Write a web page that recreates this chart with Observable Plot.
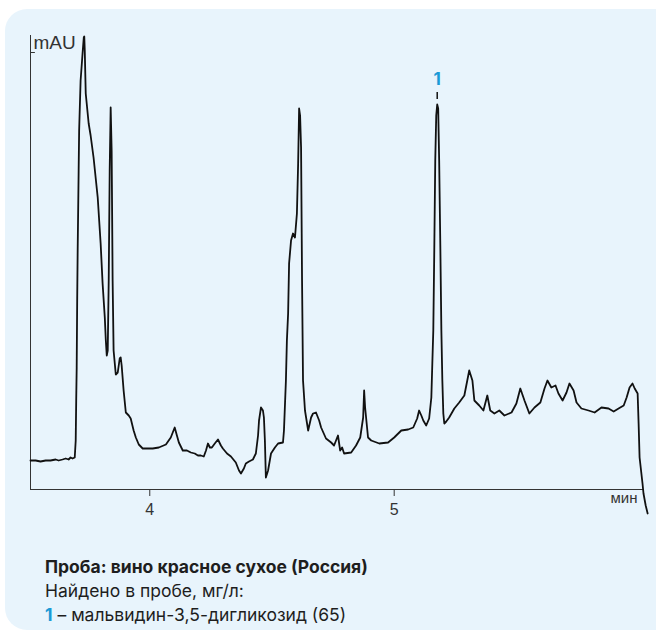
<!DOCTYPE html>
<html><head><meta charset="utf-8">
<script src="https://cdn.jsdelivr.net/npm/d3@7"></script>
<script src="https://cdn.jsdelivr.net/npm/@observablehq/plot@0.6"></script>
<style>
html,body{margin:0;padding:0;width:656px;height:632px;overflow:hidden;background:#fff;}
#card{position:absolute;left:5px;top:9px;width:700px;height:621px;border-radius:22px;background:#e8f4fc;}
#chart{position:absolute;left:0;top:0;}
#caption{position:absolute;left:45px;top:555px;font-family:Inter,Roboto,"Noto Sans",sans-serif;font-size:17.5px;line-height:24px;color:#1e1e1e;}
</style></head><body>
<div id="card"></div><div id="chart"></div>
<div id="caption"><b>Проба: вино красное сухое (Россия)</b><br>Найдено в пробе, мг/л:<br><span style="color:#1b9ad6;font-weight:700">1</span> – мальвидин-3,5-дигликозид (65)</div>
<script>
const time = [3.512,3.533,3.553,3.574,3.594,3.615,3.627,3.643,3.656,3.668,3.676,3.684,3.693,
3.697,3.699,3.701,3.703,3.705,3.709,3.711,3.717,3.725,3.730,3.732,
3.734,3.738,3.750,3.758,3.770,3.787,3.799,3.807,3.816,3.820,3.824,3.828,3.832,3.836,3.840,3.844,3.848,3.852,3.861,3.869,3.877,3.881,3.885,3.893,3.902,3.914,3.922,3.934,3.943,3.955,3.971,3.996,4.012,4.037,4.066,4.086,4.094,4.102,4.111,4.119,4.135,4.152,4.168,4.184,4.197,4.209,4.221,4.230,4.238,4.246,4.254,4.266,4.279,4.291,4.299,4.316,4.332,4.352,4.365,4.373,4.385,4.393,4.406,4.422,4.434,4.443,4.447,4.455,4.463,4.467,4.471,4.475,4.484,4.496,4.512,4.525,4.545,4.549,4.557,4.561,4.566,4.570,4.578,4.586,4.594,4.602,4.607,4.611,4.615,4.619,4.623,4.627,4.635,4.648,4.660,4.668,4.680,4.693,4.701,4.721,4.742,4.754,4.762,4.770,4.779,4.787,4.795,4.824,4.844,4.861,4.873,4.877,4.881,4.893,4.906,4.939,4.975,5.000,5.029,5.057,5.078,5.094,5.102,5.111,5.119,5.131,5.143,5.152,5.156,5.160,5.164,5.168,5.172,5.176,5.180,5.184,5.189,5.193,5.197,5.201,5.205,5.213,5.225,5.246,5.266,5.287,5.299,5.307,5.320,5.328,5.348,5.365,5.381,5.393,5.410,5.430,5.451,5.480,5.500,5.516,5.533,5.553,5.574,5.598,5.615,5.627,5.643,5.660,5.672,5.689,5.705,5.717,5.734,5.746,5.766,5.795,5.820,5.848,5.877,5.898,5.918,5.939,5.951,5.963,5.975,5.984,5.996,6.000,6.004,6.016,6.020,6.029,6.037];
const signal = [29,29,28,29,29,30,29,30,31,30,32,31,32,
49,89,122,189,239,319,359,409,436,452,453,
439,396,366,354,332,292,246,206,172,150,134,139,209,319,382,339,209,139,115,117,131,132,124,99,77,74,71,59,52,45,41,41,41,42,45,52,57,62,54,47,39,39,37,36,34,34,33,39,46,42,42,46,50,44,41,36,33,27,19,16,21,26,28,30,36,54,69,82,79,72,49,12,19,36,42,46,47,59,109,149,176,226,249,256,252,276,326,381,374,342,209,109,79,59,72,76,77,69,62,51,47,44,49,54,39,42,36,37,44,52,72,99,82,52,49,46,47,52,59,60,62,71,79,74,69,64,71,92,126,159,239,329,374,385,381,329,239,159,109,76,66,68,72,81,87,94,109,119,109,89,84,79,94,79,76,79,74,77,86,101,89,76,82,87,101,109,102,104,96,89,97,106,99,87,81,79,77,82,81,78,81,84,92,102,106,101,96,66,32,6,-4,-16,-24];
const xTicks = [4, 5];
const xDomain = [3.512, 6.020];
const yDomain = [0, 454];
const yTopTick = 437;
const peaks = [{t: 5.176, v: 385, label: "1"}];
const yLabel = "mAU";
const xLabel = "мин";
const blue = "#1b9ad6";

const data = time.map((t, i) => ({t, v: signal[i]}));

const chart = Plot.plot({
  width: 656, height: 530,
  marginLeft: 30, marginRight: 13, marginTop: 35, marginBottom: 41,
  style: {background: "transparent", fontFamily: "'Liberation Sans', Arial, sans-serif", color: "#333", overflow: "visible"},
  x: {domain: xDomain, axis: null},
  y: {domain: yDomain, axis: null},
  marks: [
    Plot.ruleY([0], {stroke: "#333", strokeWidth: 1}),
    Plot.ruleX([xDomain[0]], {stroke: "#333", strokeWidth: 1}),
    Plot.ruleY([yTopTick], {x1: xDomain[0], x2: xDomain[0] + 0.02, stroke: "#333"}),
    Plot.axisX({ticks: xTicks, tickFormat: d => String(d), tickSize: 7, tickPadding: 7, fontSize: 16, label: null, stroke: "#333", fill: "#333"}),
    Plot.text([yLabel], {frameAnchor: "top-left", dx: 3, dy: 0, lineAnchor: "top", textAnchor: "start", fontSize: 19, fill: "#333"}),
    Plot.text([xLabel], {frameAnchor: "bottom-right", dx: -6, dy: 3, lineAnchor: "top", textAnchor: "end", fontSize: 15, fill: "#333"}),
    Plot.line(data, {x: "t", y: "v", stroke: "#111", strokeWidth: 1.8, strokeLinejoin: "round"}),
    Plot.ruleX(peaks, {x: "t", y1: d => d.v + 5, y2: d => d.v + 12, stroke: "#111", strokeWidth: 1.5}),
    Plot.text(peaks, {x: "t", y: "v", text: "label", dy: -20, lineAnchor: "bottom", fill: blue, fontWeight: 700, fontSize: 17, fontFamily: "Inter, Roboto, sans-serif"})
  ]
});
document.getElementById("chart").appendChild(chart);
</script>
</body></html>
